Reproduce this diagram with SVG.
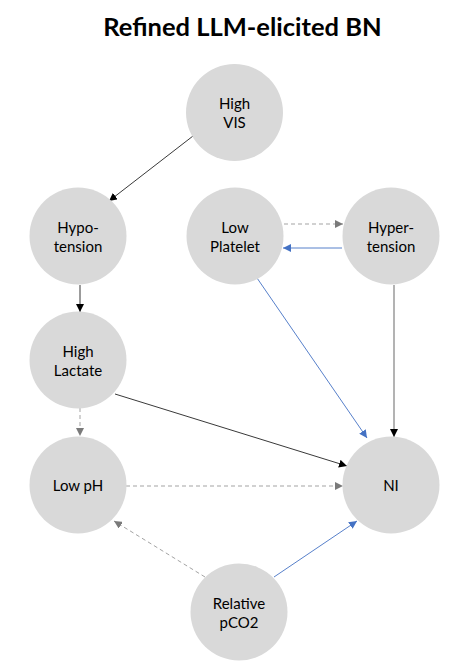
<svg xmlns="http://www.w3.org/2000/svg" width="466" height="665" viewBox="0 0 466 665">
<defs>
<style>
.node circle{fill:#d9d9d9}
.node text{font-family:Lato,"Open Sans","DejaVu Sans",sans-serif;font-size:15px;fill:#000;text-anchor:middle}
.title{font-family:Lato,"Liberation Sans",sans-serif;font-weight:bold;font-size:25.5px;fill:#000;text-anchor:middle}
.e{fill:none;stroke-width:0.9}
.k{stroke:#222}
.g{stroke:#999;stroke-dasharray:4 3}
.b{stroke:#4472c4}
.gs{stroke:#8a8a8a;stroke-width:1.3}
</style>
<marker id="ak" viewBox="0 0 10 10" refX="10" refY="5" markerWidth="8" markerHeight="8" markerUnits="userSpaceOnUse" orient="auto"><path d="M0,0 L10,5 L0,10 z" fill="#000"/></marker>
<marker id="ag" viewBox="0 0 10 10" refX="10" refY="5" markerWidth="8" markerHeight="8" markerUnits="userSpaceOnUse" orient="auto"><path d="M0,0 L10,5 L0,10 z" fill="#7a7a7a"/></marker>
<marker id="ab" viewBox="0 0 10 10" refX="10" refY="5" markerWidth="8" markerHeight="8" markerUnits="userSpaceOnUse" orient="auto"><path d="M0,0 L10,5 L0,10 z" fill="#4472c4"/></marker>
</defs>
<rect width="466" height="665" fill="#fff"/>
<text class="title" x="242.5" y="36">Refined LLM-elicited BN</text>
<g id="connectors">
<line class="e k" x1="193" y1="136" x2="109" y2="201" marker-end="url(#ak)"/>
<line class="e k" x1="80" y1="285" x2="80" y2="312" marker-end="url(#ak)"/>
<line class="e g" x1="284" y1="224" x2="343" y2="224" marker-end="url(#ag)"/>
<line class="e b" x1="342" y1="248" x2="283" y2="248" marker-end="url(#ab)"/>
<line class="e b" x1="257" y1="278" x2="367" y2="438" marker-end="url(#ab)"/>
<line class="e gs" x1="394" y1="285" x2="394" y2="437" marker-end="url(#ak)"/>
<line class="e k" x1="115" y1="394" x2="347" y2="466" marker-end="url(#ak)"/>
<line class="e g" x1="80" y1="408" x2="80" y2="436" marker-end="url(#ag)"/>
<line class="e g" x1="126" y1="486" x2="343" y2="486" marker-end="url(#ag)"/>
<line class="e g" x1="205" y1="577" x2="114" y2="521" marker-end="url(#ag)"/>
<line class="e b" x1="274" y1="577" x2="357" y2="521" marker-end="url(#ab)"/>
</g>
<g id="high-vis" class="node"><circle cx="234.5" cy="112.5" r="48.5"/><text x="234.5" y="109">High</text><text x="234.5" y="128">VIS</text></g>
<g id="hypotension" class="node"><circle cx="78" cy="236" r="48.5"/><text x="78" y="233">Hypo-</text><text x="78" y="252">tension</text></g>
<g id="low-platelet" class="node"><circle cx="235" cy="236" r="48.5"/><text x="235" y="233">Low</text><text x="235" y="252">Platelet</text></g>
<g id="hypertension" class="node"><circle cx="391" cy="236" r="48.5"/><text x="391" y="233">Hyper-</text><text x="391" y="252">tension</text></g>
<g id="high-lactate" class="node"><circle cx="78" cy="360" r="48.5"/><text x="78" y="357">High</text><text x="78" y="376">Lactate</text></g>
<g id="low-ph" class="node"><circle cx="78" cy="485" r="48.5"/><text x="78" y="491">Low pH</text></g>
<g id="ni" class="node"><circle cx="391" cy="485" r="48.5"/><text x="391" y="491">NI</text></g>
<g id="relative-pco2" class="node"><circle cx="239" cy="612" r="48.5"/><text x="239" y="609">Relative</text><text x="239" y="628">pCO2</text></g>
</svg>
